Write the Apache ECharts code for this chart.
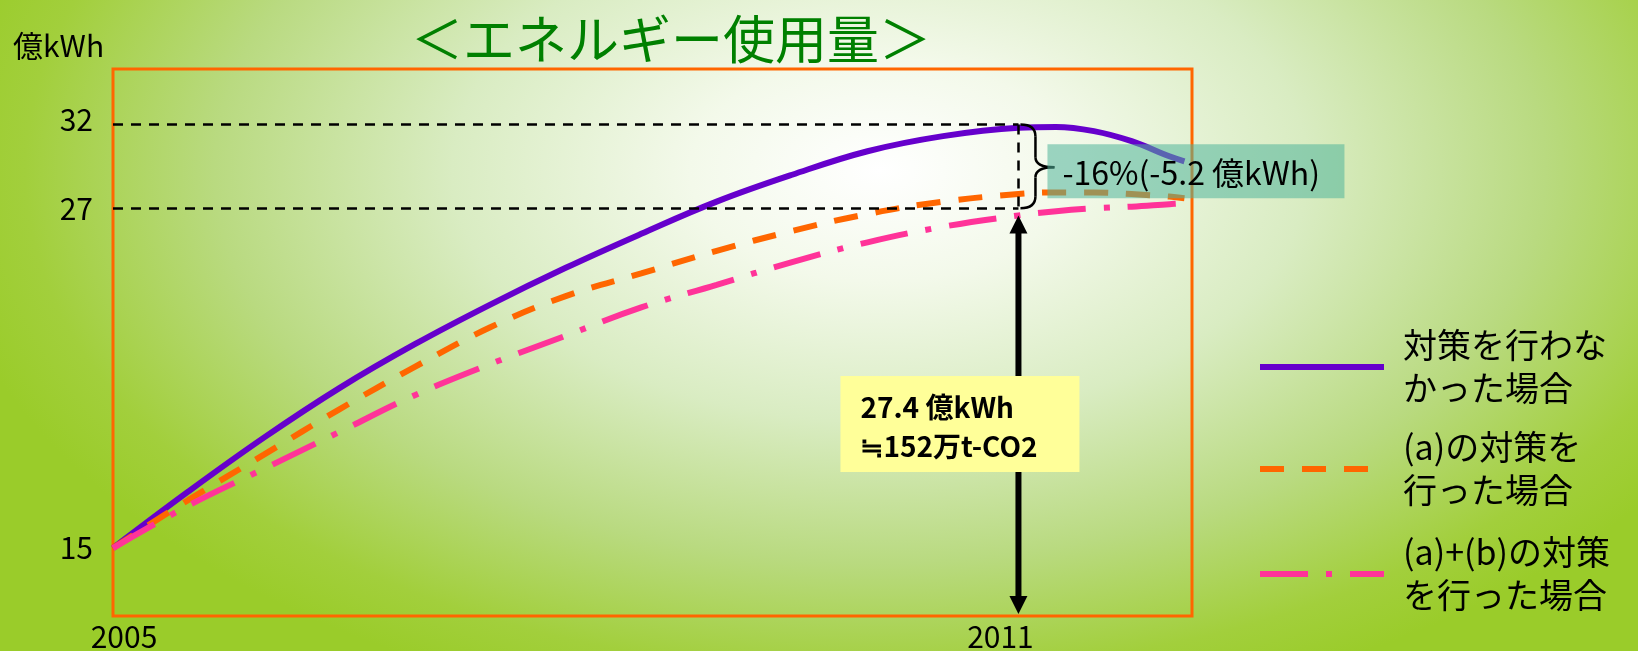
<!DOCTYPE html>
<html>
<head>
<meta charset="utf-8">
<title>エネルギー使用量</title>
<script src="https://cdn.jsdelivr.net/npm/echarts@6/dist/echarts.min.js"></script>
<style>
  html, body { margin: 0; padding: 0; }
  body {
    width: 1638px;
    height: 651px;
    overflow: hidden;
    background: radial-gradient(ellipse 950px 560px at 880px 170px,
      #ffffff 0%, #f3f9ea 20%, #d9ecc2 45%, #b9da80 70%, #a2cf3c 90%, #9acc2a 100%);
  }
  #main { width: 1638px; height: 651px; }
</style>
</head>
<body>
<div id="main"></div>
<script>
// 年ごとの値（億kWh）
const years = [2005, 2005.5, 2006, 2006.5, 2007, 2007.5, 2008, 2008.5, 2009, 2009.5, 2010, 2010.5, 2011, 2011.25, 2011.5, 2011.75, 2012, 2012.1];
const noAction = [15.0, 17.0, 18.9, 20.65, 22.2, 23.6, 24.9, 26.1, 27.4, 29.0, 30.4, 31.3, 31.8, 31.85, 31.6, 31.0, 30.1, 29.8];
const actionA = [15.0, 16.7, 18.3, 19.9, 21.4, 22.8, 23.9, 24.7, 25.5, 26.2, 26.8, 27.4, 27.85, 27.95, 27.95, 27.85, 27.7, 27.6];
const actionAB = [15.0, 16.5, 17.8, 19.1, 20.4, 21.5, 22.5, 23.5, 24.3, 25.1, 25.8, 26.35, 26.75, 26.9, 27.0, 27.1, 27.25, 27.3];
const seriesNames = ["対策を行わな\nかった場合", "(a)の対策を\n行った場合", "(a)+(b)の対策\nを行った場合"];

const xTicks = [2005, 2011];
const yTicks = [15, 27, 32];
const xRange = [2005, 2012.15];
const yRange = [12.6, 35.3];
const targetYear = 2011;

const FONT = '"Noto Sans CJK JP", "Noto Sans", sans-serif';

// 元の縦軸は等間隔ではない（15〜27 が広く、27〜32 が狭い）
const segHeight = [340, 84];
function toAxis(v) {
  if (v <= yTicks[1]) {
    return (v - yTicks[0]) / (yTicks[1] - yTicks[0]) * segHeight[0];
  }
  return segHeight[0] + (v - yTicks[1]) / (yTicks[2] - yTicks[1]) * segHeight[1];
}

const colors = ["#6600cc", "#ff6600", "#ff3399"];
const dashes = ["solid", [24, 18], [48, 18, 6, 18]];
const values = [noAction, actionA, actionAB];

const series = values.map((vals, i) => ({
  name: seriesNames[i],
  type: "line",
  smooth: 0.4,
  symbol: "none",
  data: years.map((y, j) => [y, toAxis(vals[j])]),
  lineStyle: { color: colors[i], width: 6, type: dashes[i], cap: "butt" },
  itemStyle: { color: colors[i] },
}));

// 32 と 27 の点線
series[0].markLine = {
  silent: true,
  symbol: "none",
  label: { show: false },
  lineStyle: { color: "#000", width: 2.5, type: [10, 8] },
  data: [
    [{ coord: [xTicks[0], toAxis(yTicks[2])] }, { coord: [targetYear, toAxis(yTicks[2])] }],
    [{ coord: [xTicks[0], toAxis(yTicks[1])] }, { coord: [targetYear, toAxis(yTicks[1])] }],
    [{ coord: [targetYear, toAxis(yTicks[2])] }, { coord: [targetYear, toAxis(yTicks[1])] }],
  ],
};

// 凡例（線の位置に合わせて3つに分ける）
const legendLineY = [367, 469, 574];
const legendLH = 43;
const legend = seriesNames.map((name, i) => {
  const padTop = i === 0 ? 0 : 39;
  return {
    data: [{ name, textStyle: { padding: [padTop, 0, 0, 14] } }],
    left: 1257,
    top: legendLineY[i] - (2 * legendLH + padTop) / 2,
    padding: 0,
    itemWidth: 124,
    itemHeight: 7,
    selectedMode: false,
    lineStyle: { width: 6 },
    itemStyle: { opacity: 0 },
    textStyle: { fontSize: 34, lineHeight: legendLH, color: "#000", fontFamily: FONT },
  };
});

const chart = echarts.init(document.getElementById("main"), null, { renderer: "canvas" });
const option = {
  animation: false,
  backgroundColor: "transparent",
  textStyle: { fontFamily: FONT },
  title: {
    text: "＜エネルギー使用量＞",
    left: 411,
    top: 13,
    padding: 0,
    textStyle: { fontSize: 52, fontWeight: "normal", color: "#008000", fontFamily: FONT },
  },
  legend,
  grid: {
    left: 113,
    right: 446,
    top: 69,
    bottom: 35,
    show: true,
    borderColor: "#ff6600",
    borderWidth: 3,
    backgroundColor: "transparent",
    containLabel: false,
    outerBoundsMode: "none",
  },
  xAxis: {
    type: "value",
    min: xRange[0],
    max: xRange[1],
    axisLine: { show: false },
    axisTick: { show: false },
    splitLine: { show: false },
    axisLabel: {
      customValues: xTicks,
      margin: 6,
      color: "#000",
      fontSize: 30,
      formatter: (v) => (v === xTicks[0] ? "{a|" + v + "}" : "{b|" + v + "}"),
      rich: {
        a: { fontSize: 30, color: "#000", fontFamily: FONT, padding: [0, 0, 0, 22] },
        b: { fontSize: 30, color: "#000", fontFamily: FONT, padding: [0, 36, 0, 0] },
      },
    },
  },
  yAxis: {
    type: "value",
    min: toAxis(yRange[0]),
    max: toAxis(yRange[1]),
    axisLine: { show: false },
    axisTick: { show: false },
    splitLine: { show: false },
    axisLabel: {
      customValues: yTicks.map(toAxis),
      margin: 20,
      color: "#000",
      fontSize: 30,
      formatter: (v) => {
        const t = yTicks.find((t) => Math.abs(toAxis(t) - v) < 1e-6);
        if (t === undefined) return "";
        // 32 のラベルだけ少し上にある
        return t === yTicks[2] ? "{up|" + t + "}" : String(t);
      },
      rich: {
        up: { fontSize: 30, color: "#000", fontFamily: FONT, padding: [0, 0, 10, 0] },
      },
    },
  },
  series,
};
chart.setOption(option);

// 注記（軸の座標から位置を計算）
const px = (x, v) => chart.convertToPixel({ gridIndex: 0 }, [x, toAxis(v)]);
const p32 = px(targetYear, yTicks[2]);
const p27 = px(targetYear, yTicks[1]);
const pTop = px(targetYear, actionAB[years.indexOf(targetYear)]);
const pBottom = px(targetYear, yRange[0]);
const ax = p32[0];
const y1 = p32[1];
const y2 = p27[1];
const ym = (y1 + y2) / 2 + 1;
const bx = ax + 17;
const tipX = ax + 36;

const braceStyle = { stroke: "#000", lineWidth: 2.5, fill: null };
const graphic = [
  {
    type: "text",
    x: 13,
    y: 46,
    style: { text: "億kWh", font: "30px " + FONT, fill: "#000", verticalAlign: "middle" },
  },
  // 中括弧
  { type: "bezierCurve", z: 20, shape: { x1: ax + 2, y1: y1, cpx1: bx, cpy1: y1, x2: bx, y2: y1 + 12 }, style: braceStyle },
  { type: "line", z: 20, shape: { x1: bx, y1: y1 + 12, x2: bx, y2: ym - 10 }, style: braceStyle },
  { type: "bezierCurve", z: 20, shape: { x1: bx, y1: ym - 10, cpx1: bx, cpy1: ym, x2: tipX, y2: ym }, style: braceStyle },
  { type: "bezierCurve", z: 20, shape: { x1: tipX, y1: ym, cpx1: bx, cpy1: ym, x2: bx, y2: ym + 10 }, style: braceStyle },
  { type: "line", z: 20, shape: { x1: bx, y1: ym + 10, x2: bx, y2: y2 - 12 }, style: braceStyle },
  { type: "bezierCurve", z: 20, shape: { x1: bx, y1: y2 - 12, cpx1: bx, cpy1: y2, x2: ax + 2, y2: y2 }, style: braceStyle },
  // -16% ラベル
  {
    type: "rect",
    z: 21,
    shape: { x: ax + 29, y: ym - 23, width: 297, height: 54 },
    style: { fill: "rgba(80,180,155,0.55)" },
  },
  {
    type: "text",
    z: 22,
    x: ax + 44,
    y: ym + 5,
    style: { text: "-16%(-5.2 億kWh)", font: "32px " + FONT, fill: "#000", verticalAlign: "middle" },
  },
  // 矢印
  {
    type: "line",
    z: 20,
    shape: { x1: ax, y1: pTop[1] + 12, x2: ax, y2: pBottom[1] - 14 },
    style: { stroke: "#000", lineWidth: 6 },
  },
  {
    type: "polygon",
    z: 20,
    shape: { points: [[ax, pTop[1]], [ax - 9, pTop[1] + 18], [ax + 9, pTop[1] + 18]] },
    style: { fill: "#000" },
  },
  {
    type: "polygon",
    z: 20,
    shape: { points: [[ax, pBottom[1] - 2], [ax - 9, pBottom[1] - 20], [ax + 9, pBottom[1] - 20]] },
    style: { fill: "#000" },
  },
  // 27.4億kWh の黄色い箱
  {
    type: "rect",
    z: 23,
    shape: { x: ax - 178, y: 376, width: 239, height: 96 },
    style: { fill: "#ffff99" },
  },
  {
    type: "text",
    z: 24,
    x: ax - 158,
    y: 388,
    style: {
      text: "27.4 億kWh\n≒152万t-CO2",
      font: "bold 28px " + FONT,
      lineHeight: 39,
      fill: "#000",
      verticalAlign: "top",
    },
  },
];
chart.setOption({ graphic });
</script>
</body>
</html>
